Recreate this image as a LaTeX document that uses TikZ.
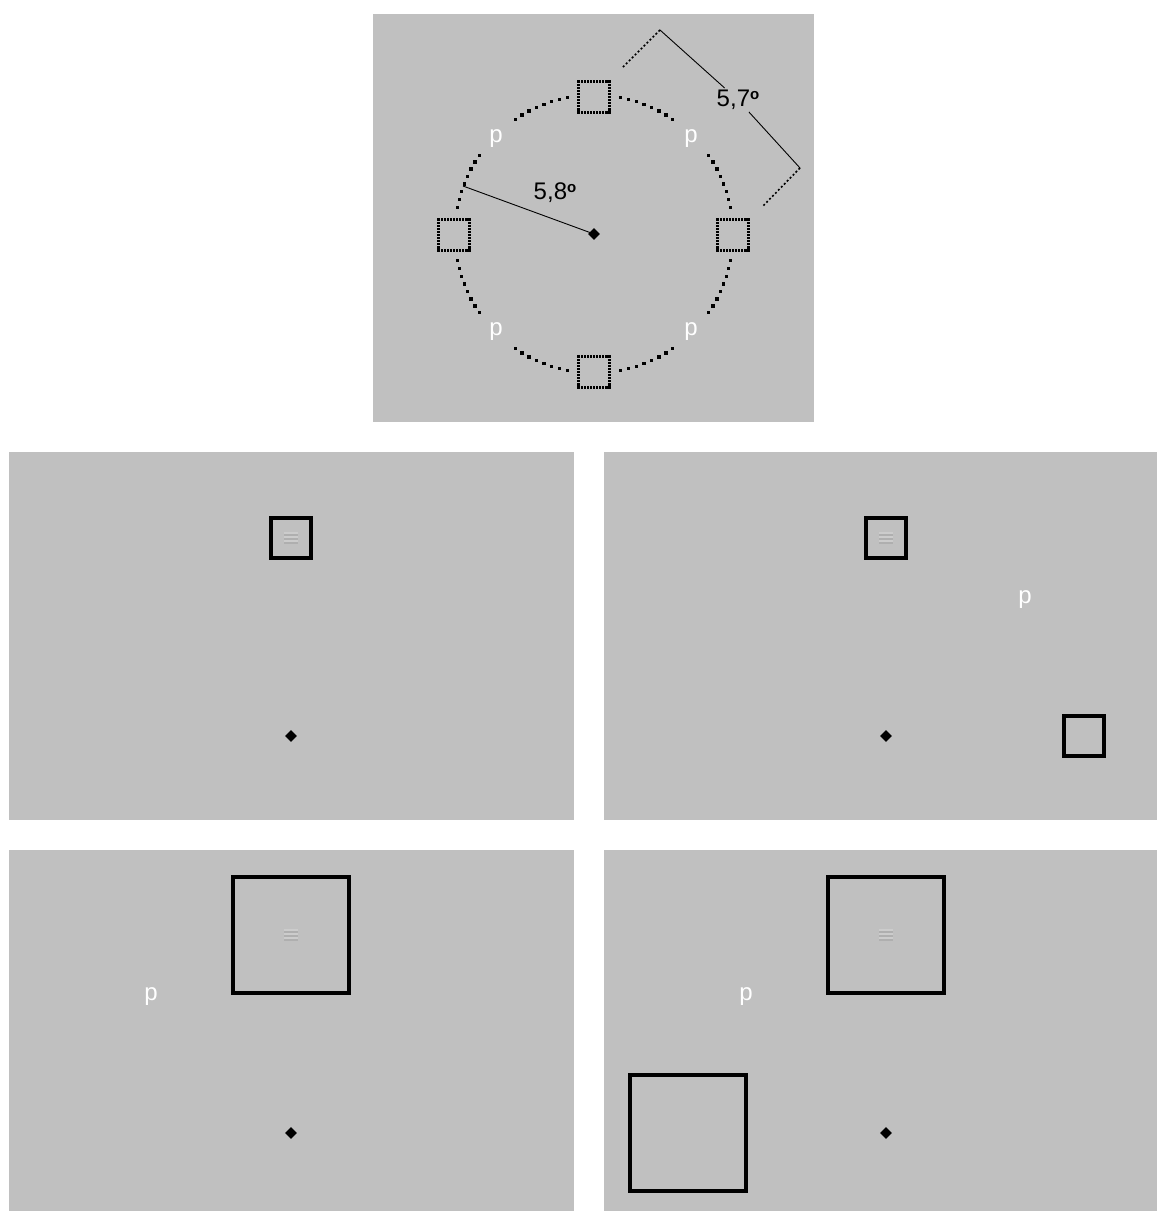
\documentclass[tikz,border=0pt]{standalone}
\usepackage{fontspec}
\setmainfont{Liberation Sans}
\usetikzlibrary{calc,shapes.geometric}
\definecolor{panel}{RGB}{192,192,192}
\definecolor{gdark}{RGB}{165,165,165}
\definecolor{glight}{RGB}{212,212,212}
\newcommand{\degsign}{\raisebox{0.55ex}{\fontsize{15}{15}\selectfont\bfseries o}}
\begin{document}
\begin{tikzpicture}[x=1pt,y=-1pt,
  panelbox/.style={fill=panel,draw=none},
  dotsq/.style={draw=none,minimum size=31pt,inner sep=0pt,rectangle},
  fixmark/.style={diamond,fill=black,draw=none,minimum width=12pt,minimum height=12pt,inner sep=0pt},
  plabel/.style={text=white,font=\fontsize{24}{28}\selectfont,inner sep=0pt},
  deglabel/.style={text=black,font=\fontsize{24}{28}\selectfont,inner sep=2pt},
  stimsq/.style={draw=black,line width=4pt,rectangle,inner sep=0pt},
  smallsq/.style={stimsq,minimum size=40pt},
  bigsq/.style={stimsq,minimum size=116pt},
  thinline/.style={draw=black,line width=0.9pt},
  extline/.style={draw=black,line width=1.6pt,dash pattern=on 2pt off 2.2pt},
  grating/.pic={
    \foreach \dy/\c in {-5/glight,-3/gdark,-1/glight,1/gdark,3/glight,5/gdark}{
      \draw[\c,line width=1.1pt,opacity=0.6] (-7,\dy) -- (7,\dy);
    }
  },
  sqdots/.pic={
    \foreach \i in {0,...,9}{
      \pgfmathsetmacro\t{-15.5+3.1*\i}
      \fill[black] (\t-1.1,-16.6) rectangle ++(2.2,2.2);
      \fill[black] (\t+3.1-1.1,14.4) rectangle ++(2.2,2.2);
      \fill[black] (-16.6,\t+3.1-1.1) rectangle ++(2.2,2.2);
      \fill[black] (14.4,\t-1.1) rectangle ++(2.2,2.2);
    }
  }]
\useasboundingbox (0,0) rectangle (1157,1211);
\fill[white] (0,0) rectangle (1157,1211);

% ---------- top panel ----------
\fill[panelbox] (373,14) rectangle (814,422);
\coordinate (cen) at (594,234);
\foreach \s in {0,90,180,270}{
  \foreach \k in {0,...,7}{
    \pgfmathsetmacro\aa{\s+11+3.36*\k}
    \pgfmathsetmacro\ab{\s-11-3.36*\k}
    \fill[black] ($(cen)+(\aa:139)$) ++(-1.7,-1.7) rectangle ++(3.4,3.4);
    \fill[black] ($(cen)+(\ab:139)$) ++(-1.7,-1.7) rectangle ++(3.4,3.4);
  }
}
\node[dotsq] (sqT) at (594,97) {};
\node[dotsq] (sqL) at (454,235) {};
\node[dotsq] (sqR) at (733,235) {};
\node[dotsq] (sqB) at (594,372) {};
\foreach \n in {sqT,sqL,sqR,sqB}{ \pic at (\n.center) {sqdots}; }
\node[plabel] (p1) at (496,139) {p};
\node[plabel] (p2) at (691,139) {p};
\node[plabel] (p3) at (496,332) {p};
\node[plabel] (p4) at (691,332) {p};
\node[fixmark] (fix) at (cen) {};
% radius
\coordinate (r58) at (463,186);
\draw[thinline] (r58) -- (fix.center);
\node[deglabel] (lab58) at (555,193) {5,8\degsign};
% dimension 5,7
\coordinate (d1) at (660,30);
\coordinate (d2) at (800,168);
\coordinate (e1) at (622,68);
\coordinate (e2) at (762,207);
\node[deglabel] (lab57) at (738,100) {5,7\degsign};
\draw[thinline] (d1) -- (lab57);
\draw[thinline] (lab57) -- (d2);
\draw[extline] (d1) -- (e1);
\draw[extline] (d2) -- (e2);

% ---------- panel A ----------
\fill[panelbox] (9,452) rectangle (574,820);
\node[smallsq] (aS) at (291,538) {};
\pic at (aS.center) {grating};
\node[fixmark] (aF) at (291,736) {};

% ---------- panel B ----------
\fill[panelbox] (604,452) rectangle (1157,820);
\node[smallsq] (bS) at (886,538) {};
\pic at (bS.center) {grating};
\node[plabel] (bP) at (1025,600) {p};
\node[smallsq] (bD) at (1084,736) {};
\node[fixmark] (bF) at (886,736) {};

% ---------- panel C ----------
\fill[panelbox] (9,850) rectangle (574,1211);
\node[bigsq] (cS) at (291,935) {};
\pic at (cS.center) {grating};
\node[plabel] (cP) at (151,997) {p};
\node[fixmark] (cF) at (291,1133) {};

% ---------- panel D ----------
\fill[panelbox] (604,850) rectangle (1157,1211);
\node[bigsq] (dS) at (886,935) {};
\pic at (dS.center) {grating};
\node[plabel] (dP) at (746,997) {p};
\node[bigsq] (dD) at (688,1133) {};
\node[fixmark] (dF) at (886,1133) {};
\end{tikzpicture}
\end{document}
